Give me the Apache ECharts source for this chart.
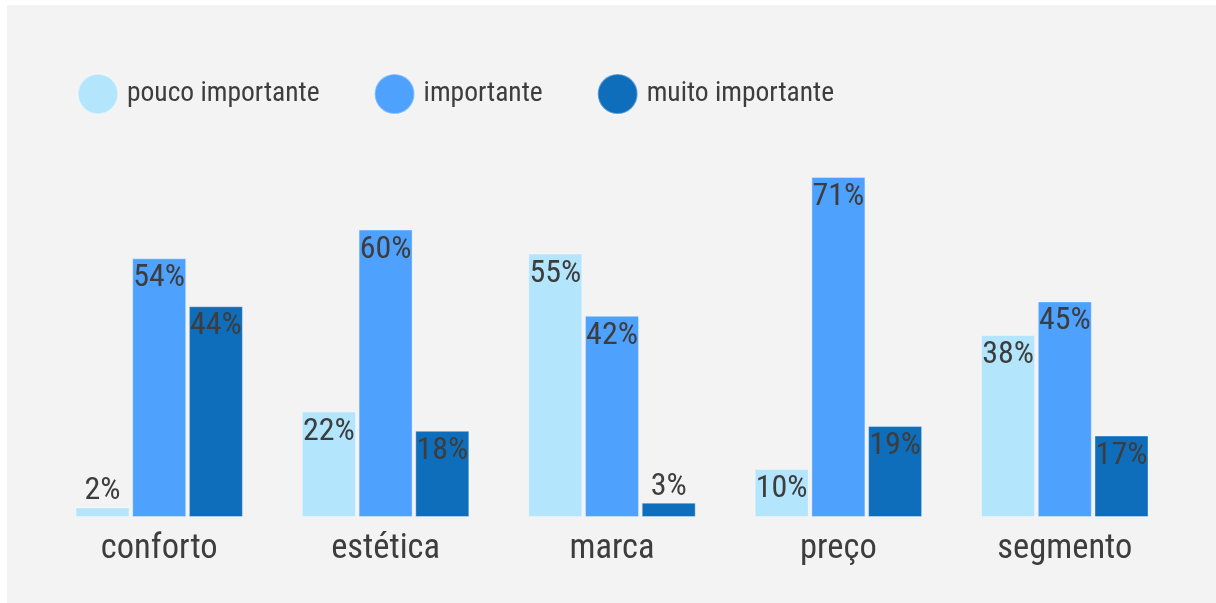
<!DOCTYPE html>
<html>
<head>
<meta charset="utf-8">
<script src="https://cdn.jsdelivr.net/npm/echarts@6/dist/echarts.min.js"></script>
<style>
html,body{margin:0;padding:0;background:#ffffff;}
#main{width:1216px;height:603px;}
</style>
</head>
<body>
<div id="main"></div>
<script>
var categories = ['conforto', 'estética', 'marca', 'preço', 'segmento'];
var seriesNames = ['pouco importante', 'importante', 'muito importante'];
var poucoImportante = [2, 22, 55, 10, 38];
var importante = [54, 60, 42, 71, 45];
var muitoImportante = [44, 18, 3, 19, 17];
var colors = ['#B3E5FC', '#4FA1FE', '#0F6EBC'];

var FONT = "'Roboto Condensed', 'Roboto', sans-serif";
var TEXT = '#3d3d3d';

function makeData(arr) {
  return arr.map(function (v) {
    if (v < 5) {
      return { value: v, label: { position: 'top', distance: 0 } };
    }
    return v;
  });
}

var allValues = [poucoImportante, importante, muitoImportante];

var chart = echarts.init(document.getElementById('main'), null, { renderer: 'canvas' });
chart.setOption({
  backgroundColor: '#ffffff',
  animation: false,
  color: colors,
  graphic: [{
    type: 'rect', z: -10, silent: true,
    shape: { x: 7, y: 5, width: 1216 - 7, height: 603 - 5 },
    style: { fill: '#f3f3f3' }
  }],
  legend: {
    left: 72, top: 68,
    icon: 'circle',
    itemWidth: 40, itemHeight: 40,
    itemGap: 54,
    textStyle: { fontFamily: FONT, fontSize: 27.5, color: TEXT, padding: [0, 0, 0, 4] },
    data: seriesNames
  },
  grid: { left: 46, right: 38, top: 38, bottom: 86, containLabel: false },
  xAxis: {
    type: 'category',
    data: categories,
    axisLine: { show: false },
    axisTick: { show: false },
    axisLabel: { fontFamily: FONT, fontSize: 34.5, color: TEXT, margin: 15 }
  },
  yAxis: {
    type: 'value', min: 0, max: 100,
    show: false,
    splitLine: { show: false }
  },
  series: seriesNames.map(function (name, i) {
    return {
      name: name,
      type: 'bar',
      barWidth: 54,
      barGap: '5%',
      data: makeData(allValues[i]),
      itemStyle: { borderColor: 'rgba(255,255,255,0.35)', borderWidth: 1 },
      label: {
        show: true,
        position: 'insideTop',
        distance: 4,
        formatter: '{c}%',
        fontFamily: FONT,
        fontSize: 32,
        color: TEXT
      }
    };
  })
});
</script>
</body>
</html>
